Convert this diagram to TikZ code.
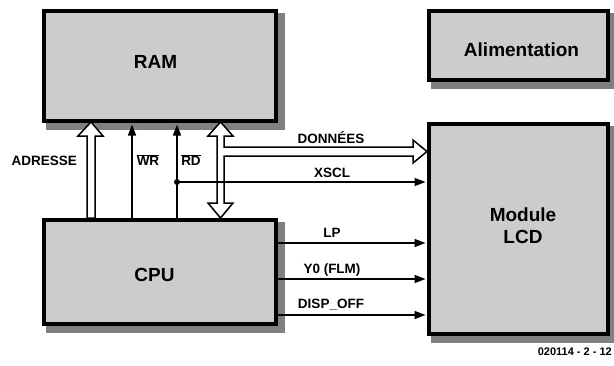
\documentclass[tikz,border=0pt]{standalone}
\usepackage{fontspec}
\setmainfont{Liberation Sans}
\usetikzlibrary{arrows.meta, backgrounds, positioning}
\definecolor{boxfill}{RGB}{204, 204, 204}
\definecolor{boxshadow}{RGB}{128, 128, 128}

\begin{document}
\begin{tikzpicture}[x=1pt, y=-1pt,
	box/.style={rectangle, draw=black, line width=3.5pt, fill=boxfill,
		font=\fontsize{19}{22}\selectfont\bfseries, align=center},
	lbl/.style={font=\fontsize{13.5}{15}\selectfont\bfseries, inner sep=0pt},
	sig/.style={-{Triangle[length=11pt, width=8pt]}, line width=1.5pt, shorten >=1.75pt},
	bus/.style={draw=black, fill=white, line width=1.5pt, line join=miter}]
	
	\useasboundingbox (0,0) rectangle (614,365);
	
	\node[box, minimum width=232pt, minimum height=110pt, text depth=8pt] (ram) at (160,66) {\hspace*{-9pt}RAM};
	\node[box, minimum width=232pt, minimum height=104pt, text height=19.6pt] (cpu) at (160,272) {\hspace*{-11pt}CPU};
	\node[box, minimum width=179pt, minimum height=69pt, text height=22.6pt] (alim) at (518.5,45.5) {\hspace*{6pt}Alimentation};
	\node[box, minimum width=179pt, minimum height=210pt, text depth=6pt] (lcd) at (518.5,229) {\hspace*{9pt}Module\\\hspace*{9pt}LCD};
	
	% ombres des blocs
	\begin{scope}[on background layer]
		\foreach \b in {ram, cpu, alim, lcd}
			\fill[boxshadow] ([shift={(3.25pt,-6.75pt)}]\b.south west) rectangle ([shift={(6.75pt,-3.25pt)}]\b.north east);
	\end{scope}
	
	% bus d'adresse et bus de donnees
	\draw[bus] (91,122) -- (103,136) -- (95,136) -- (95,218) -- (87,218) -- (87,136) -- (78,136) -- cycle;
	\draw[bus] (220.5,122) -- (233,136) -- (224,136) -- (224,147) -- (413,147) -- (413,140)
		-- (427,151.5) -- (413,163) -- (413,156) -- (224,156) -- (224,203) -- (233,203)
		-- (220.5,218) -- (208,203) -- (217,203) -- (217,136) -- (208,136) -- cycle;
	
	\coordinate (wr) at (132,0);
	\coordinate (rd) at (177,0);
	\coordinate (xs) at (177,182);
	\coordinate (lp) at (0,243);
	\coordinate (flm) at (0,279);
	\coordinate (off) at (0,315);
	
	\draw[sig] (wr |- cpu.north) -- (wr |- ram.south);
	\draw[sig] (rd |- cpu.north) -- (rd |- ram.south);
	\fill (xs) circle (3pt);
	\draw[sig] (xs) -- (xs -| lcd.west);
	\draw[sig] (lp -| cpu.east) -- (lp -| lcd.west);
	\draw[sig] (flm -| cpu.east) -- (flm -| lcd.west);
	\draw[sig] (off -| cpu.east) -- (off -| lcd.west);
	
	\node[lbl, anchor=east] (adrlbl) at (77,161) {ADRESSE};
	\node[lbl] (wrlbl) at (148,160) {$\overline{\mbox{WR}}$};
	\node[lbl] (rdlbl) at (191,160) {$\overline{\mbox{RD}}$};
	\node[lbl] (datlbl) at (331,138) {DONNÉES};
	\node[lbl] (xslbl) at (332,173) {XSCL};
	\node[lbl] (lplbl) at (332,233) {LP};
	\node[lbl] (flmlbl) at (332,270) {Y0 (FLM)};
	\node[lbl] (offlbl) at (331,305) {DISP\_OFF};
	\node[font=\fontsize{11}{13}\selectfont\bfseries, anchor=east, inner sep=0pt] (fig) at (612,352) {020114 - 2 - 12};
\end{tikzpicture}
\end{document}
